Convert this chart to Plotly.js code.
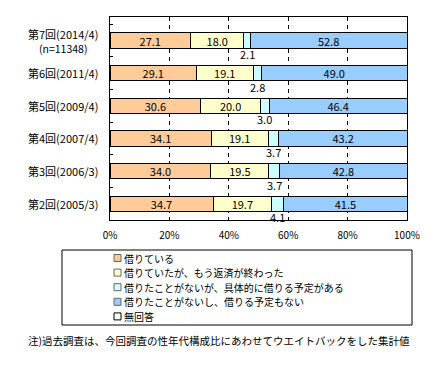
<!DOCTYPE html>
<html>
<head>
<meta charset="utf-8">
<script src="https://cdn.plot.ly/plotly-3.0.1.min.js"></script>
<style>html,body{margin:0;padding:0;background:#fff;}#chart{width:445px;height:368px;}</style>
</head>
<body>
<div id="chart"></div>
<script>
// ---- data ----
const categories = ['第7回(2014/4)', '第6回(2011/4)', '第5回(2009/4)', '第4回(2007/4)', '第3回(2006/3)', '第2回(2005/3)'];
const sampleNote = '(n=11348)';
const seriesNames = ['借りている', '借りていたが、もう返済が終わった', '借りたことがないが、具体的に借りる予定がある', '借りたことがないし、借りる予定もない', '無回答'];
const borrowing = [27.1, 29.1, 30.6, 34.1, 34.0, 34.7];
const repaid    = [18.0, 19.1, 20.0, 19.1, 19.5, 19.7];
const planned   = [2.1, 2.8, 3.0, 3.7, 3.7, 4.1];
const noPlan    = [52.8, 49.0, 46.4, 43.2, 42.8, 41.5];
const noAnswer  = [0, 0, 0, 0, 0, 0];
const tickVals  = [0, 20, 40, 60, 80, 100];
const tickText  = ['0%', '20%', '40%', '60%', '80%', '100%'];
const footNote  = '注)過去調査は、今回調査の性年代構成比にあわせてウエイトバックをした集計値';

// ---- styles ----
const colors = ['#FFCC99', '#FFFFCC', '#CCFFFF', '#99CCFF', '#FFFFFF'];
const FONT = '"Noto Sans CJK JP", "Noto Sans", sans-serif';
const W = 445, H = 368, ML = 110, MR = 38, MT = 17, MB = 148;
const PW = W - ML - MR, PH = H - MT - MB;
const px = v => (v - ML) / PW;           // pixel -> paper x
const py = v => (H - MB - v) / PH;       // pixel -> paper y

const seriesValues = [borrowing, repaid, planned, noPlan, noAnswer];
const traces = seriesValues.map((vals, i) => ({
  type: 'bar',
  orientation: 'h',
  name: seriesNames[i],
  y: categories,
  x: vals,
  marker: {color: colors[i], line: {color: '#000', width: 1}},
  text: (i === 0 || i === 1 || i === 3) ? vals.map(v => v.toFixed(1)) : vals.map(() => ''),
  textposition: 'inside',
  insidetextanchor: 'middle',
  textangle: 0,
  constraintext: 'none',
  textfont: {family: FONT, size: 11, color: '#000'},
  hoverinfo: 'none',
  showlegend: false
}));

const annotations = [];
// category labels
categories.forEach((c, i) => {
  annotations.push({
    xref: 'paper', yref: 'y', x: px(63), y: c,
    yshift: i === 0 ? 6.5 : 0,
    text: c,
    showarrow: false, xanchor: 'center', yanchor: 'middle', align: 'center',
    font: {family: FONT, size: 11, color: '#000'}
  });
});
annotations.push({
  xref: 'paper', yref: 'y', x: px(63), y: categories[0], yshift: -8,
  text: sampleNote, showarrow: false, xanchor: 'center', yanchor: 'middle',
  font: {family: FONT, size: 10.5, color: '#000'}
});
// labels of the small segment, under the bar
categories.forEach((c, i) => {
  annotations.push({
    xref: 'x', yref: 'y', x: borrowing[i] + repaid[i] + planned[i] / 2, y: c,
    yshift: -13.5, text: planned[i].toFixed(1), showarrow: false,
    xanchor: 'center', yanchor: 'middle',
    font: {family: FONT, size: 11, color: '#000'}
  });
});
// legend (box + swatches + labels)
const shapes = [{
  type: 'rect', xref: 'paper', yref: 'paper',
  x0: px(62), x1: px(412), y0: py(325), y1: py(250),
  line: {color: '#000', width: 1}, fillcolor: '#fff', layer: 'above'
}];
const rowStep = 14.6, row0 = 258.0;
seriesNames.forEach((n, i) => {
  const cy = row0 + rowStep * i;
  shapes.push({
    type: 'rect', xref: 'paper', yref: 'paper',
    x0: px(114), x1: px(121), y0: py(cy + 3.5), y1: py(cy - 3.5),
    line: {color: i === 4 ? '#000' : '#666', width: 1}, fillcolor: colors[i], layer: 'above'
  });
  annotations.push({
    xref: 'paper', yref: 'paper', x: px(123), y: py(cy),
    text: n, showarrow: false, xanchor: 'left', yanchor: 'middle',
    borderpad: 0,
    font: {family: FONT, size: 10, color: '#000'}
  });
});
annotations.push({
  xref: 'paper', yref: 'paper', x: px(26), y: py(340),
  text: footNote, showarrow: false, xanchor: 'left', yanchor: 'middle',
  font: {family: FONT, size: 10.5, color: '#000'}
});

const layout = {
  width: W, height: H,
  margin: {l: ML, r: MR, t: MT, b: MB, pad: 0},
  paper_bgcolor: '#fff', plot_bgcolor: '#fff',
  barmode: 'stack', bargap: 0.53,
  showlegend: false,
  font: {family: FONT, size: 11, color: '#000'},
  xaxis: {
    range: [0, 100], tickvals: tickVals, ticktext: tickText,
    showgrid: true, gridcolor: '#000', gridwidth: 1, griddash: '4px,4px',
    zeroline: false, showline: true, mirror: true, linecolor: '#000', linewidth: 1,
    ticks: '', ticklabelstandoff: 6,
    tickfont: {family: FONT, size: 10, color: '#000'}, fixedrange: true
  },
  yaxis: {
    type: 'category', categoryorder: 'array', categoryarray: categories,
    autorange: 'reversed', showticklabels: false,
    ticks: 'inside', tickson: 'boundaries', ticklen: 3, tickcolor: '#000',
    showgrid: false, zeroline: false, showline: true, mirror: true,
    linecolor: '#000', linewidth: 1, fixedrange: true
  },
  annotations: annotations,
  shapes: shapes
};

Plotly.newPlot('chart', traces, layout, {displayModeBar: false, staticPlot: true});
</script>
</body>
</html>
